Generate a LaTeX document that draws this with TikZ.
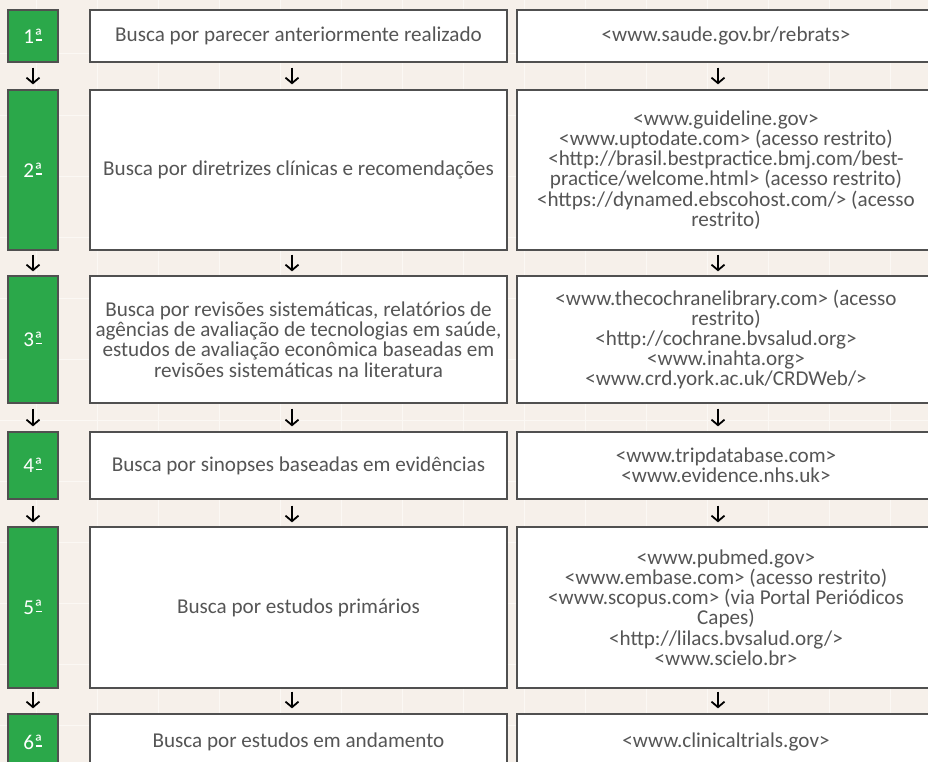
\documentclass[tikz,border=0pt]{standalone}
\usepackage{fontspec}
\setmainfont{Carlito}
\usetikzlibrary{arrows.meta}
\definecolor{bg}{HTML}{F6F0EA}
\definecolor{gridc}{HTML}{FBF8F4}
\definecolor{grn}{HTML}{2BA84A}
\definecolor{bord}{HTML}{505050}
\definecolor{txt}{HTML}{555555}
\newcommand{\ordnum}[1]{#1ª\llap{\rule[0.12em]{0.3em}{0.06em}\hspace{0.03em}}}
\begin{document}
\begin{tikzpicture}[x=1bp,y=-1bp,
  box/.style={draw=bord, line width=1.3bp, fill=white, inner sep=0pt, align=center,
    text=txt, font=\fontsize{21.2}{20.3}\selectfont},
  num/.style={box, fill=grn, text=white, minimum width=50bp},
  mid/.style={box, minimum width=417bp},
  rgt/.style={box, minimum width=418bp},
  arr/.style={line width=1.8bp, black, -{Straight Barb[length=5.5bp,width=13bp]}}]
\useasboundingbox (0,0) rectangle (928,762);
\clip (0,0) rectangle (928,762);
\fill[bg] (0,0) rectangle (928,762);
\foreach \x in {36,97,...,890} \draw[gridc, line width=1bp] (\x,0) -- (\x,762);
\foreach \y in {54,115,...,725} \draw[gridc, line width=1bp] (0,\y) -- (928,\y);

% row 1
\node[num, minimum height=52bp] (g1) at (33,36) {\ordnum{1}};
\node[mid, minimum height=52bp] (m1) at (298.5,36) {Busca por parecer anteriormente realizado};
\node[rgt, minimum height=52bp] (r1) at (726,36) {<www.saude.gov.br/rebrats>};
% row 2
\node[num, minimum height=160bp] (g2) at (33,170) {\ordnum{2}};
\node[mid, minimum height=160bp] (m2) at (298.5,170) {Busca por diretrizes clínicas e recomendações};
\node[rgt, minimum height=160bp] (r2) at (726,170) {<www.guideline.gov>\\<www.uptodate.com> (acesso restrito)\\<http://brasil.bestpractice.bmj.com/best-\\practice/welcome.html> (acesso restrito)\\<https://dynamed.ebscohost.com/> (acesso\\restrito)};
% row 3
\node[num, minimum height=127bp] (g3) at (33,339.5) {\ordnum{3}};
\node[mid, minimum height=127bp] (m3) at (298.5,339.5) {Busca por revisões sistemáticas, relatórios de\\agências de avaliação de tecnologias em saúde,\\estudos de avaliação econômica baseadas em\\revisões sistemáticas na literatura};
\node[rgt, minimum height=127bp] (r3) at (726,339.5) {<www.thecochranelibrary.com> (acesso\\restrito)\\<http://cochrane.bvsalud.org>\\<www.inahta.org>\\<www.crd.york.ac.uk/CRDWeb/>};
% row 4
\node[num, minimum height=67bp] (g4) at (33,465.5) {\ordnum{4}};
\node[mid, minimum height=67bp] (m4) at (298.5,465.5) {Busca por sinopses baseadas em evidências};
\node[rgt, minimum height=67bp] (r4) at (726,465.5) {<www.tripdatabase.com>\\<www.evidence.nhs.uk>};
% row 5
\node[num, minimum height=161bp] (g5) at (33,607.5) {\ordnum{5}};
\node[mid, minimum height=161bp] (m5) at (298.5,607.5) {Busca por estudos primários};
\node[rgt, minimum height=161bp] (r5) at (726,607.5) {<www.pubmed.gov>\\<www.embase.com> (acesso restrito)\\<www.scopus.com> (via Portal Periódicos\\Capes)\\<http://lilacs.bvsalud.org/>\\<www.scielo.br>};
% row 6
\node[num, minimum height=56bp] (g6) at (33,742) {\ordnum{6}};
\node[mid, minimum height=56bp] (m6) at (298.5,742) {Busca por estudos em andamento};
\node[rgt, minimum height=56bp] (r6) at (726,742) {<www.clinicaltrials.gov>};

% arrows
\foreach \a/\b/\s/\t in {1/2/5/5, 2/3/4/4, 3/4/5/5, 4/5/6/4, 5/6/3/5} {
  \draw[arr, shorten <=\s bp, shorten >=\t bp] (g\a.south) -- (g\b.north);
  \draw[arr, shorten <=\s bp, shorten >=\t bp] ([xshift=-6.5bp]m\a.south) -- ([xshift=-6.5bp]m\b.north);
  \draw[arr, shorten <=\s bp, shorten >=\t bp] ([xshift=-8bp]r\a.south) -- ([xshift=-8bp]r\b.north);
}
\end{tikzpicture}
\end{document}
